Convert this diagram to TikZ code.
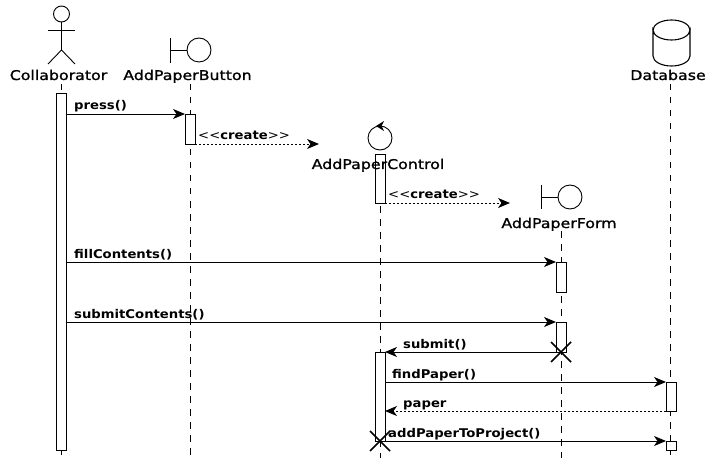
\documentclass[tikz,border=0pt]{standalone}
\usepackage{fontspec}
\setmainfont{DejaVu Sans}
\newfontfamily\namefont[FakeStretch=1.18,FakeBold=1.2]{DejaVu Sans}
\newfontfamily\msgfont[FakeStretch=1.1]{DejaVu Sans Bold}
\newfontfamily\anglefont[FakeStretch=1.1]{DejaVu Sans}
\usetikzlibrary{arrows.meta}
\tikzset{
  ln/.style={line width=0.9pt,black},
  lifeline/.style={ln,dash pattern=on 6.5pt off 6.5pt,line width=0.8pt},
  actbox/.style={draw,ln,fill=white,minimum width=10pt,inner sep=0pt,outer sep=0pt,anchor=north,rectangle},
  callmsg/.style={ln,-{Stealth[length=12pt,width=10pt,inset=3.5pt]}},
  retmsg/.style={ln,dash pattern=on 2pt off 2pt,-{Stealth[length=12pt,width=10pt,inset=3.5pt]}},
  objname/.style={font=\namefont\fontsize{13.4pt}{15pt}\selectfont,inner sep=0pt,anchor=base},
  msg/.style={font=\msgfont\fontsize{12pt}{13pt}\selectfont,inner sep=0pt,anchor=base west},
  kill/.style={line width=1.6pt,black}
}
\newcommand{\crt}{{\anglefont<<}create{\anglefont>>}}
\begin{document}
\begin{tikzpicture}[x=1pt,y=-1pt]
\useasboundingbox (0,0) rectangle (709,465);
\fill[white] (0,0) rectangle (709,465);
% name labels
\node[objname] (nCol) at (58.5,80) {Collaborator};
\node[objname] (nBtn) at (187.5,80) {AddPaperButton};
\node[objname] (nDb) at (668,80) {Database};
% lifeline ends
\coordinate (eCol) at (61,458);
\coordinate (eBtn) at (190,458);
\coordinate (eCtl) at (380,458);
\coordinate (eFrm) at (561,458);
\coordinate (eDb) at (670,458);
\coordinate (sCol) at (61,84);
\coordinate (sBtn) at (190,84);
\coordinate (sCtl) at (380,154);
\coordinate (sFrm) at (561,231);
\coordinate (sDb) at (670,84);
\draw[lifeline] (sCol) -- (eCol);
\draw[lifeline] (sBtn) -- (eBtn);
\draw[lifeline] (sCtl) -- (eCtl);
\draw[lifeline] (sFrm) -- (eFrm);
\draw[lifeline] (sDb) -- (eDb);
% activations
\node[actbox,minimum height=357pt] (aCol) at (61,93) {};
\node[actbox,minimum height=30pt] (aBtn) at (190,114) {};
\node[actbox,minimum height=49pt] (aCtl) at (380,154) {};
\node[actbox,minimum height=30pt] (aFrmA) at (561,262) {};
\node[actbox,minimum height=30pt] (aFrmB) at (561,322) {};
\node[actbox,minimum height=89pt] (aCtlB) at (380,352) {};
\node[actbox,minimum height=29pt] (aDbA) at (671,382) {};
\node[actbox,minimum height=9pt] (aDbB) at (671,441) {};
\node[objname] (nCtl) at (378,169) {AddPaperControl};
\node[objname] (nFrm) at (559,228) {AddPaperForm};
% icons
\draw[ln] (61.5,14) circle (8);
\draw[ln] (61.5,22) -- (61.5,50);
\draw[ln] (48,30.5) -- (75,30.5);
\draw[ln] (48,64) -- (61.5,50) -- (75,64);
\draw[ln] (170.5,38) -- (170.5,63);
\draw[ln] (170.5,50) -- (187,50);
\draw[ln] (199,50) circle (12);
\draw[ln] (380,138) circle (12);
\fill (376,126) -- (384,121) -- (381.5,126) -- (384,131) -- cycle;
\draw[ln] (541.5,185) -- (541.5,209);
\draw[ln] (541.5,197) -- (558,197);
\draw[ln] (570,197) circle (12);
\draw[ln,line width=1.1pt] (653,30) arc[start angle=180,end angle=0,x radius=18.5,y radius=10] -- (690,56) arc[start angle=0,end angle=180,x radius=18.5,y radius=10] -- cycle;
\draw[ln,line width=1.1pt] (653,30) arc[start angle=180,end angle=360,x radius=18.5,y radius=10];
% free ends of create
\coordinate (tCtl) at (319,144);
\coordinate (tFrm) at (510,203);
% messages
\draw[callmsg] (aCol.east |- aBtn.north) -- (aBtn.north west);
\draw[retmsg] (aBtn.south east) -- (tCtl);
\draw[retmsg] (aCtl.south east) -- (tFrm);
\draw[callmsg] (aCol.east |- aFrmA.north) -- (aFrmA.north west);
\draw[callmsg] (aCol.east |- aFrmB.north) -- (aFrmB.north west);
\draw[callmsg] (aFrmB.south west) -- (aCtlB.north east);
\draw[callmsg] (aCtlB.east |- aDbA.north) -- (aDbA.north west);
\draw[retmsg] (aDbA.south west) -- (aCtlB.east |- aDbA.south);
\draw[callmsg] (aCtlB.south east) -- (aDbB.north west);
% destruction
\draw[kill] (551,342) -- (571,362) (551,362) -- (571,342);
\draw[kill] (370,431) -- (390,451) (370,451) -- (390,431);
% labels
\node[msg] (m1) at (74,110) {press()};
\node[msg] (m2) at (198,140) {\crt};
\node[msg] (m3) at (388,199) {\crt};
\node[msg] (m4) at (74,258) {fillContents()};
\node[msg] (m5) at (74,318) {submitContents()};
\node[msg] (m6) at (403,348) {submit()};
\node[msg] (m7) at (392,378) {findPaper()};
\node[msg] (m8) at (403,407) {paper};
\node[msg] (m9) at (388,437) {addPaperToProject()};
\end{tikzpicture}
\end{document}
